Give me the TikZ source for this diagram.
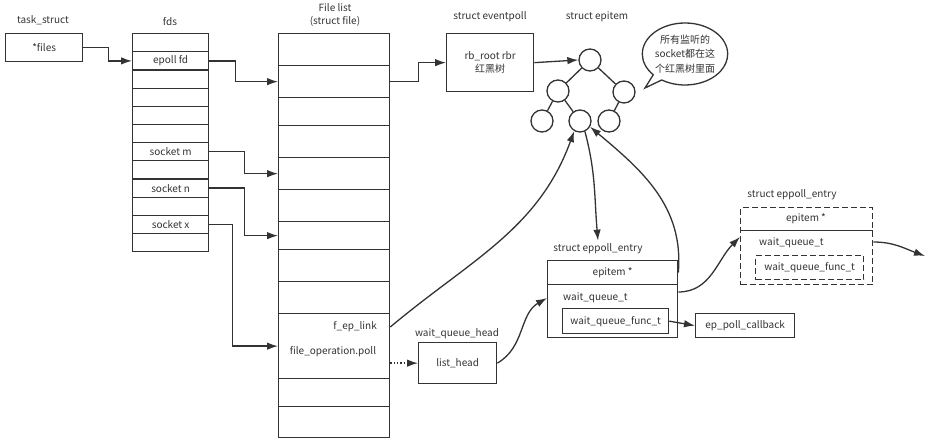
\documentclass[tikz,border=0pt]{standalone}
\usepackage{fontspec}
\setmainfont{Noto Sans CJK SC}
\usetikzlibrary{arrows.meta,shapes.callouts}
\definecolor{ink}{HTML}{333333}
\begin{document}
\begin{tikzpicture}[x=1pt,y=-1pt,
  every node/.style={text=ink,font=\fontsize{10}{12.5}\selectfont},
  box/.style={draw=ink,line width=1.3pt,rectangle,inner sep=0pt,anchor=north west},
  lbl/.style={inner sep=0pt},
  dashbox/.style={dash pattern=on 6pt off 3pt},
  tnode/.style={draw=ink,line width=1.3pt,circle,minimum size=22pt,inner sep=0pt},
  arr/.style={draw=ink,line width=1.3pt,-{Latex[length=11pt,width=7.5pt]}},
  link/.style={draw=ink,line width=1.3pt}]
\useasboundingbox (0,0) rectangle (930,443);
% task_struct
\node[lbl] (tl) at (43,20) {task\_struct};
\node[box,minimum width=77pt,minimum height=28pt] (files) at (5,33) {*files};
% fds
\node[lbl] (fdl) at (170,22) {fds};
\foreach \i/\t in {1/,2/epoll fd,3/,4/,5/,6/,7/socket m,8/,9/socket n,10/,11/socket x,12/}
  \node[box,minimum width=76pt,minimum height=18.17pt] (fd\i) at (132,{33+(\i-1)*18.17}) {\t};
% file list
\node[lbl,align=center] (fll) at (335,15) {File list\\(struct file)};
\foreach \i/\t/\b in {1/33/65,2/65/97,3/97/125,4/125/157,5/157/189,6/189/221,7/221/249,8/249/281,9/281/313,10/313/378,11/378/406,12/406/437}
  \node[box,minimum width=111pt,minimum height={(\b-\t)*1pt}] (fl\i) at (278,\t) {};
\node[lbl,anchor=east] (flink) at (377,327) {f\_ep\_link};
\node[lbl] (fpoll) at (333,352) {file\_operation.poll};
% eventpoll
\node[lbl] (epl) at (490,17) {struct eventpoll};
\node[box,minimum width=87pt,minimum height=58pt,align=center] (ep) at (446,33) {rb\_root rbr\\红黑树};
% epitem tree
\node[lbl] (eil) at (597,17) {struct epitem};
\node[tnode] (t1) at (590,60) {};
\node[tnode] (t2) at (558,91) {};
\node[tnode] (t3) at (624,92) {};
\node[tnode] (t4) at (542,121) {};
\node[tnode] (t5) at (580,121) {};
\node[tnode] (t6) at (609,121) {};
\draw[link] (t1) -- (t2);
\draw[link] (t1) -- (t3);
\draw[link] (t2) -- (t4);
\draw[link] (t2) -- (t5);
\draw[link] (t3) -- (t6);
\node[ellipse callout,draw=ink,line width=1.3pt,minimum width=80pt,minimum height=62pt,inner sep=0pt,align=center,
  callout absolute pointer={(645,88)},font=\fontsize{10}{14.5}\selectfont] (bub) at (685,54) {所有监听的\\socket都在这\\个红黑树里面};
% wait_queue_head
\node[lbl] (wqh) at (457,334) {wait\_queue\_head};
\node[box,minimum width=78pt,minimum height=41pt] (lh) at (418,342) {list\_head};
% eppoll_entry
\node[lbl] (eel) at (598,249) {struct eppoll\_entry};
\node[box,minimum width=130pt,minimum height=24pt] (eepi) at (547,260) {epitem *};
\node[box,minimum width=130pt,minimum height=53pt] (eewait) at (547,284) {};
\node[lbl,anchor=west] (eewq) at (563,298) {wait\_queue\_t};
\node[box,minimum width=106pt,minimum height=25pt] (eefunc) at (562,308) {wait\_queue\_func\_t};
\node[box,minimum width=99pt,minimum height=24pt] (cb) at (695,313) {ep\_poll\_callback};
% next eppoll_entry
\node[lbl] (del) at (792,195) {struct eppoll\_entry};
\node[box,dashbox,minimum width=132pt,minimum height=77pt] (dbox) at (740,207) {};
\node[lbl] (depi) at (806,219) {epitem *};
\draw[draw=ink,line width=1pt] ([yshift=-24pt]dbox.north west) -- ([yshift=-24pt]dbox.north east);
\node[lbl,anchor=west] (dwq) at (759,243) {wait\_queue\_t};
\node[box,dashbox,minimum width=108pt,minimum height=24pt] (dfunc) at (755,255) {wait\_queue\_func\_t};
\coordinate (dout) at (925,256);
% connectors
\draw[arr] (files.east) -- ++(25,0) |- (fd2.west);
\draw[arr] (fd2.east) -- ++(26,0) |- (fl2.west);
\draw[arr] (fd7.east) -- ++(35,0) |- (fl5.west);
\draw[arr] (fd9.east) -- ++(35,0) |- (fl7.west);
\draw[arr] (fd11.east) -- ++(23,0) |- (fl10.west);
\draw[arr] (fl2.east) -- ++(28,0) |- (ep.west);
\draw[arr] (ep.east) -- (t1.west);
\draw[arr] (flink -| fl10.east) to[out=40,in=250] (t5.-120);
\draw[arr] (t5.-65) to[out=-75,in=95] ([yshift=3pt]eel.north);
\draw[arr] (eepi.east) to[out=85,in=-40] (t5.-30);
\draw[arr,dotted] (lh.west -| fl10.east) -- (lh.west);
\draw[arr] (lh.east) to[out=30,in=210] (eewq -| eewait.west);
\draw[arr] (eefunc.east) -- (cb.west);
\draw[arr] ([yshift=-8pt]eewait.north east) to[out=0,in=225] ([yshift=-30pt]dbox.north west);
\draw[arr] ([yshift=-35pt]dbox.north east) to[out=0,in=160] (dout);
\end{tikzpicture}
\end{document}
